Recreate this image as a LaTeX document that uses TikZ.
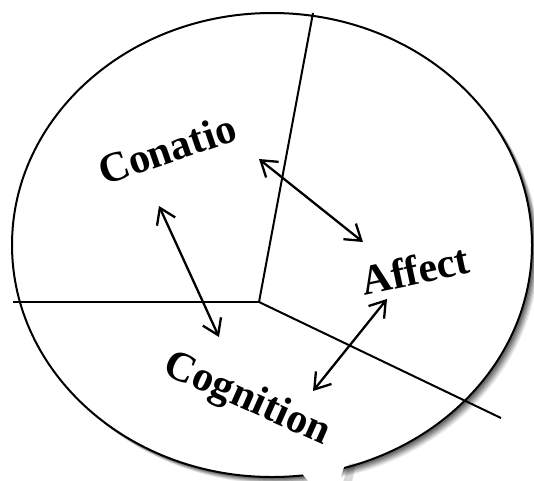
\documentclass[tikz,border=0pt]{standalone}
\usepackage{fontspec}
\setmainfont{Liberation Serif}
\usetikzlibrary{arrows.meta}
\begin{document}
\begin{tikzpicture}[x=1pt,y=-1pt,
  lbl/.style={font=\fontsize{42}{46}\selectfont\bfseries, inner sep=0pt},
  divline/.style={line width=2pt, black},
  arr/.style={line width=2.3pt, {Straight Barb[length=15pt,width=20pt]}-{Straight Barb[length=15pt,width=20pt]}},
  rim/.style={line width=2pt, black}]
\useasboundingbox (0,0) rectangle (534,480);
\clip (0,0) rectangle (534,480);
% soft shadow
\foreach \d/\o in {7/0.08,6/0.10,5/0.12,4/0.14,3/0.16,2/0.18}{
  \fill[black, opacity=\o] (272+\d,245+\d) ellipse [x radius=260, y radius=232];
}
\fill[white] (272,245) ellipse [x radius=260, y radius=232];
% divider lines
\coordinate (ctr) at (259,302);
\coordinate (lft) at (13,302);
\coordinate (top) at (313,13);
\coordinate (rgt) at (501,418);
\draw[divline] (ctr) -- (lft);
\draw[divline] (ctr) -- (top);
\draw[divline] (ctr) -- (rgt);
\draw[rim] (272,245) ellipse [x radius=260, y radius=232];
% bottom notch
\fill[black, opacity=0.15] (349,464) -- (343,482) -- (352,482) -- (356,463) -- cycle;
\fill[white] (300,471) -- (346,461) -- (339,482) -- (309,482) -- cycle;
% labels
\node[lbl, rotate=19] (con) at (167,149) {Conatio};
\node[lbl, rotate=12] (aff) at (415,270) {Affect};
\node[lbl, rotate=-24] (cog) at (247,400) {Cognition};
% arrows
\coordinate (a1) at (159,206);
\coordinate (a2) at (219,337);
\coordinate (b1) at (259,159);
\coordinate (b2) at (363,242);
\coordinate (d1) at (387,299);
\coordinate (d2) at (313,391);
\draw[arr] (a1) -- (a2);
\draw[arr] (b1) -- (b2);
\draw[arr] (d1) -- (d2);
\end{tikzpicture}
\end{document}
